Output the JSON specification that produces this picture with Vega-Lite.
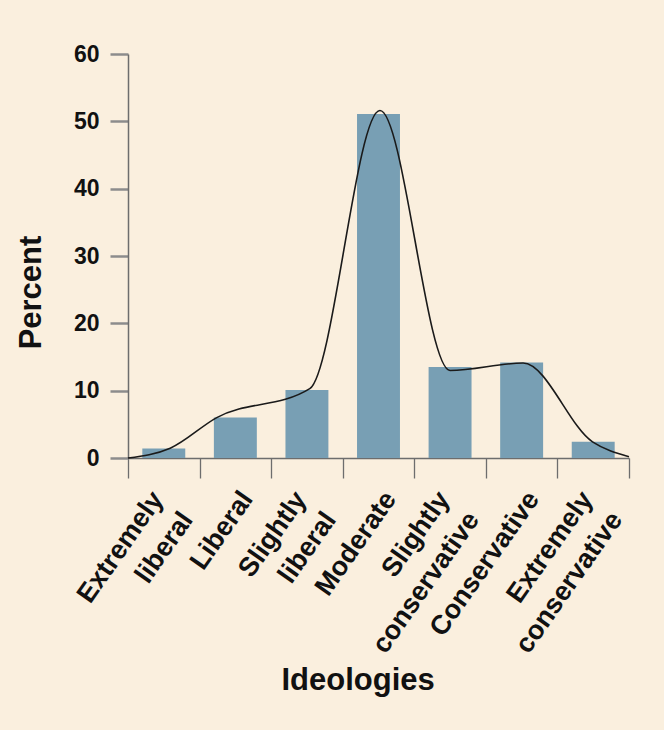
{
  "$schema": "https://vega.github.io/schema/vega-lite/v6.json",
  "autosize": {"type": "none"},
  "padding": {"left": 128, "top": 54, "right": 35, "bottom": 272},
  "width": 501,
  "height": 404,
  "background": "#faefde",
  "config": {
    "view": {"stroke": null},
    "font": "Liberation Sans"
  },
  "datasets": {
    "bars": [
      {"ideology": "Extremely liberal", "percent": 1.4},
      {"ideology": "Liberal", "percent": 6.0},
      {"ideology": "Slightly liberal", "percent": 10.1},
      {"ideology": "Moderate", "percent": 51.1},
      {"ideology": "Slightly conservative", "percent": 13.5},
      {"ideology": "Conservative", "percent": 14.2},
      {"ideology": "Extremely conservative", "percent": 2.4}
    ],
    "curve": [
      {"pos": 0, "percent": 0},
      {"pos": 0.59, "percent": 1.45},
      {"pos": 1.24, "percent": 6.0},
      {"pos": 2.54, "percent": 10.3},
      {"pos": 3.52, "percent": 51.6},
      {"pos": 4.5, "percent": 13.0},
      {"pos": 5.52, "percent": 14.1},
      {"pos": 6.49, "percent": 2.4},
      {"pos": 7.0, "percent": 0.2}
    ]
  },
  "layer": [
    {
      "data": {"name": "bars"},
      "mark": {"type": "bar", "color": "#789fb4"},
      "encoding": {
        "x": {
          "field": "ideology",
          "type": "nominal",
          "sort": null,
          "scale": {"paddingInner": 0.4, "paddingOuter": 0.2},
          "axis": {
            "title": "Ideologies",
            "titleFont": "Liberation Sans",
            "titleFontSize": 31,
            "titleFontWeight": "bold",
            "titleColor": "#111111",
            "titleX": 229.6,
            "titleY": 231,
            "titleAlign": "center",
            "titleBaseline": "alphabetic",
            "domain": false,
            "ticks": true,
            "tickSize": 20,
            "tickOpacity": 0,
            "labelAngle": -55,
            "labelAlign": "right",
            "labelBaseline": "middle",
            "labelOffset": {
              "condition": {
                "test": "datum.value == 'Extremely liberal' || datum.value == 'Slightly liberal' || datum.value == 'Slightly conservative' || datum.value == 'Extremely conservative'",
                "value": -6
              },
              "value": 12
            },
            "labelPadding": 16,
            "labelFontSize": 27,
            "labelFontWeight": "bold",
            "labelColor": "#111111",
            "labelLineHeight": 36,
            "labelLimit": 400,
            "labelOverlap": false,
            "labelBound": false,
            "labelExpr": "split(datum.label, ' ')"
          }
        },
        "y": {
          "field": "percent",
          "type": "quantitative",
          "scale": {"domain": [0, 60], "nice": false},
          "axis": {
            "title": "Percent",
            "titleFont": "Liberation Sans",
            "titleFontSize": 31,
            "titleFontWeight": "bold",
            "titleColor": "#111111",
            "titleAngle": 270,
            "titleX": -96.5,
            "titleY": 238,
            "titleAlign": "center",
            "titleBaseline": "middle",
            "values": [0, 10, 20, 30, 40, 50, 60],
            "grid": false,
            "tickSize": 18,
            "tickColor": "#8c8c8c",
            "tickWidth": 2.5,
            "domainColor": "#6d6d6d",
            "domainWidth": 1.5,
            "labelPadding": 11,
            "labelFontSize": 23,
            "labelFontWeight": "bold",
            "labelColor": "#111111"
          }
        }
      }
    },
    {
      "data": {"name": "curve"},
      "mark": {"type": "line", "interpolate": "monotone", "color": "#1a1a1a", "strokeWidth": 1.6},
      "encoding": {
        "x": {
          "field": "pos",
          "type": "quantitative",
          "scale": {"domain": [0, 7], "nice": false, "zero": false},
          "axis": {
            "orient": "bottom",
            "values": [0, 1, 2, 3, 4, 5, 6, 7],
            "labels": false,
            "title": null,
            "grid": false,
            "tickSize": 20,
            "tickColor": "#6d6d6d",
            "tickWidth": 1.3,
            "domainColor": "#6d6d6d",
            "domainWidth": 1.5
          }
        },
        "y": {"field": "percent", "type": "quantitative"}
      }
    }
  ],
  "resolve": {"scale": {"x": "independent"}, "axis": {"x": "independent"}}
}
